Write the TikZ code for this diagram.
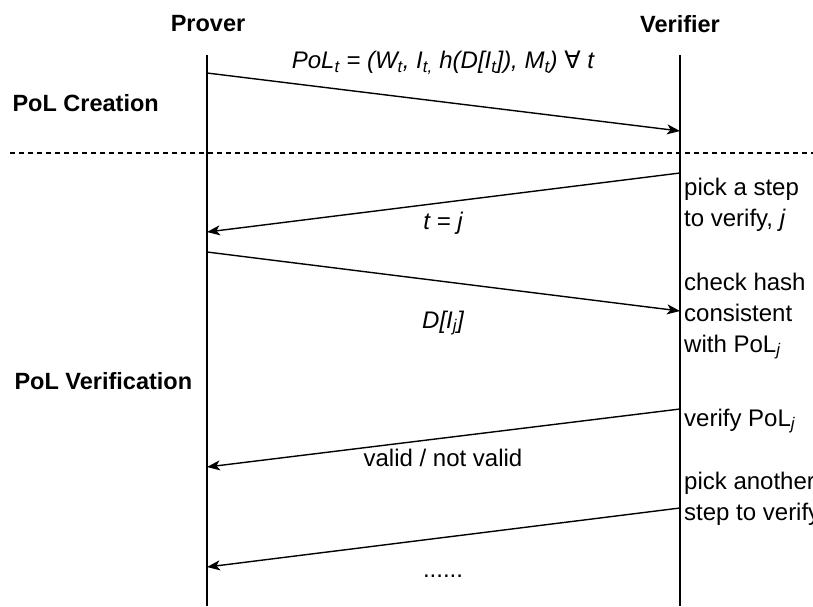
\documentclass[tikz,border=0pt]{standalone}
\usepackage{fontspec}
\setmainfont{Liberation Sans}
\newfontfamily\symfont{DejaVu Sans}
\usetikzlibrary{arrows.meta}
\tikzset{
  lifeline/.style={line width=1.4pt},
  msg/.style={line width=1.4pt, -{Stealth[length=13pt,width=10pt,inset=3.5pt]}},
  actor/.style={font=\fontsize{23.5}{28}\selectfont\bfseries},
  phase/.style={font=\fontsize{23.5}{28}\selectfont\bfseries, anchor=west},
  msglabel/.style={font=\fontsize{24}{29}\selectfont},
  note/.style={font=\fontsize{24}{31}\selectfont, align=left, anchor=west, inner sep=0pt}
}
\begin{document}
\begin{tikzpicture}[x=1pt, y=-1pt]
            \useasboundingbox (0,0) rectangle (813,606);
            % actors and lifelines
            \node[actor] (prover) at (208,24) {Prover};
            \node[actor] (verifier) at (680,24) {Verifier};
            \coordinate (pTop) at (207,55);
            \coordinate (pBot) at (207,606);
            \coordinate (vTop) at (680,55);
            \coordinate (vBot) at (680,606);
            \draw[lifeline] (pTop) -- (pBot);
            \draw[lifeline] (vTop) -- (vBot);
            % phases
            \node[phase] (creation) at (9,103) {PoL Creation};
            \node[phase] (verification) at (11,381) {PoL Verification};
            \coordinate (sepL) at (10,153);
            \coordinate (sepR) at (813,153);
            \draw[line width=1.2pt, dash pattern=on 5pt off 4pt] (sepL) -- (sepR);
            % message ends
            \coordinate (p1) at (207,73);
            \coordinate (v1) at (680,131);
            \coordinate (v2) at (680,173);
            \coordinate (p2) at (207,232);
            \coordinate (p3) at (207,252);
            \coordinate (v3) at (680,311);
            \coordinate (v4) at (680,409);
            \coordinate (p4) at (207,467);
            \coordinate (v5) at (680,508);
            \coordinate (p5) at (207,567);
            \draw[msg] (p1) -- (v1);
            \draw[msg] (v2) -- (p2);
            \draw[msg] (p3) -- (v3);
            \draw[msg] (v4) -- (p4);
            \draw[msg] (v5) -- (p5);
            % message labels
            \node[msglabel] (polt) at (443,63) {\itshape PoL\textsubscript{t} = (W\textsubscript{t}, I\textsubscript{t,} h(D[I\textsubscript{t}]), M\textsubscript{t}) {\upshape\symfont ∀} t};
            \node[msglabel] (tj) at (443,223) {\itshape t = j};
            \node[msglabel] (dij) at (443,323) {\itshape D[I\textsubscript{j}]};
            \node[msglabel] (valid) at (443,458) {valid / not valid};
            \node[msglabel] (dots) at (443,576) {......};
            % verifier notes
            \node[note] (pick) at (684,205) {pick a step\\to verify, \textit{j}};
            \node[note] (check) at (684,316) {check hash\\consistent\\with PoL\textsubscript{\textit{j}}};
            \node[note] (verify) at (684,421) {verify PoL\textsubscript{\textit{j}}};
            \node[note] (another) at (684,499) {pick another\\step to verify};
        \end{tikzpicture}
\end{document}
